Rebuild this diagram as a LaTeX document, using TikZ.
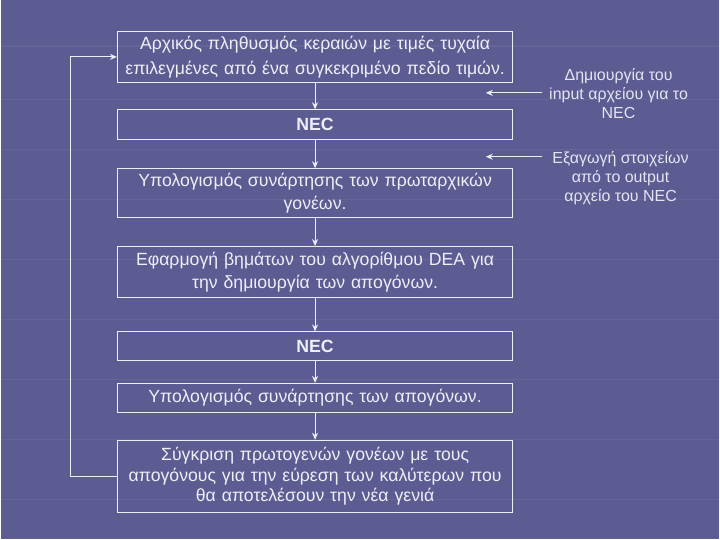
\documentclass[tikz,border=0pt]{standalone}
\usepackage{fontspec}
\setmainfont{Liberation Sans}
\usetikzlibrary{arrows.meta}
\definecolor{bg}{RGB}{92,92,146}
\definecolor{bgline}{RGB}{108,108,160}
\definecolor{fg}{RGB}{238,238,246}
\definecolor{side}{RGB}{228,228,242}
\tikzset{
  box/.style={draw=fg, line width=1pt, text=fg, align=center, text width=396pt,
    inner sep=0pt, font=\fontsize{17.7}{22}\selectfont},
  arr/.style={draw=fg, line width=1.1pt, -{Stealth[length=7pt,width=6pt]}},
  sidetxt/.style={text=side, align=center, font=\fontsize{16}{19}\selectfont}
}
\begin{document}
\begin{tikzpicture}[x=1pt,y=-1pt]
\fill[bg] (0,0) rectangle (720,540);
\foreach \yy in {46,100,150,200,260,320,380,440,500} {
  \draw[bgline, line width=1.2pt, opacity=0.5] (0,\yy) -- (720,\yy);
}
\useasboundingbox (0,0) rectangle (720,540);

\node[box, minimum height=51pt, font=\fontsize{17.7}{25}\selectfont] (b1) at (315,57) {Αρχικός πληθυσμός κεραιών με τιμές τυχαία\\επιλεγμένες από ένα συγκεκριμένο πεδίο τιμών.};
\node[box, minimum height=30pt, font=\fontsize{17.7}{22}\bfseries] (b2) at (315,125) {NEC};
\node[box, minimum height=49pt, font=\fontsize{17.7}{23}\selectfont] (b3) at (315,193.5) {Υπολογισμός συνάρτησης των πρωταρχικών\\γονέων.};
\node[box, minimum height=51pt, font=\fontsize{17.7}{23}\selectfont] (b4) at (315,272.5) {Εφαρμογή βημάτων του αλγορίθμου DEA για\\την δημιουργία των απογόνων.};
\node[box, minimum height=29pt, font=\fontsize{17.7}{22}\bfseries] (b5) at (315,347) {NEC};
\node[box, minimum height=29pt] (b6) at (315,398.5) {Υπολογισμός συνάρτησης των απογόνων.};
\node[box, minimum height=72pt, font=\fontsize{17.7}{21}\selectfont] (b7) at (315,477) {Σύγκριση πρωτογενών γονέων με τους\\απογόνους για την εύρεση των καλύτερων που\\θα αποτελέσουν την νέα γενιά};

\draw[arr] (b1) -- (b2);
\draw[arr] (b2) -- (b3);
\draw[arr] (b3) -- (b4);
\draw[arr] (b4) -- (b5);
\draw[arr] (b5) -- (b6);
\draw[arr] (b6) -- (b7);

\coordinate (fb) at (70,477);
\draw[arr] (b7.west) -- (fb) |- (b1.west);

\node[sidetxt] (t1) at (619,94) {Δημιουργία του\\input αρχείου για το\\NEC};
\node[sidetxt] (t2) at (621,178) {Εξαγωγή στοιχείων\\από το output\\αρχείο του NEC};
\coordinate (s1) at (542,93);
\coordinate (e1) at (486,93);
\coordinate (s2) at (542,157);
\coordinate (e2) at (486,157);
\draw[arr] (s1) -- (e1);
\draw[arr] (s2) -- (e2);
\end{tikzpicture}
\end{document}
